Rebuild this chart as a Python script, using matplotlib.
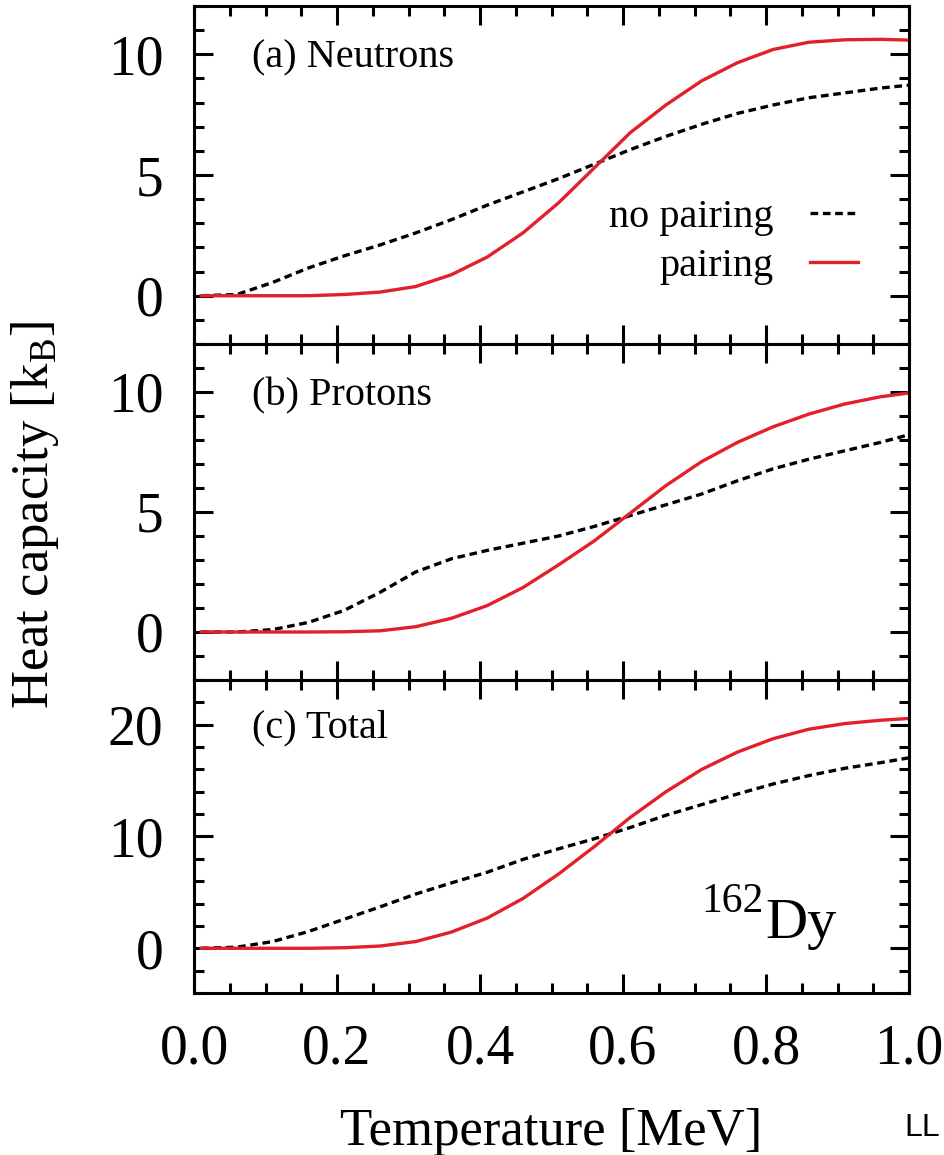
"""
Heat capacity of 162Dy vs temperature: neutrons, protons and total,
with and without pairing.
"""
import matplotlib
matplotlib.use("Agg")
import matplotlib.pyplot as plt
from matplotlib.ticker import MultipleLocator

plt.rcParams["font.family"] = ["Liberation Serif", "DejaVu Serif"]
plt.rcParams["mathtext.fontset"] = "custom"
plt.rcParams["mathtext.rm"] = "Liberation Serif"

# temperature grid [MeV]
temp = [0.01, 0.06, 0.11, 0.16, 0.21, 0.26, 0.31, 0.36, 0.41, 0.46, 0.51,
        0.56, 0.61, 0.66, 0.71, 0.76, 0.81, 0.86, 0.91, 0.96, 1.01]

# neutrons
cn_nopair = [0.0, 0.05, 0.55, 1.15, 1.65, 2.1, 2.6, 3.15, 3.75, 4.3, 4.85,
             5.45, 6.05, 6.6, 7.1, 7.55, 7.9, 8.2, 8.4, 8.6, 8.75]
cn_pair = [0.0, 0.0, 0.0, 0.0, 0.05, 0.15, 0.38, 0.87, 1.6, 2.6, 3.85,
           5.3, 6.75, 7.9, 8.9, 9.65, 10.2, 10.5, 10.6, 10.62, 10.58]

# protons
cp_nopair = [0.0, 0.0, 0.1, 0.4, 0.9, 1.65, 2.5, 3.05, 3.4, 3.7, 4.0,
             4.4, 4.85, 5.3, 5.75, 6.3, 6.8, 7.2, 7.55, 7.9, 8.3]
cp_pair = [0.0, 0.0, 0.0, 0.0, 0.01, 0.05, 0.22, 0.57, 1.1, 1.85, 2.8,
           3.8, 4.95, 6.1, 7.1, 7.9, 8.55, 9.08, 9.5, 9.8, 10.0]

# total
ct_nopair = [0.0, 0.1, 0.6, 1.5, 2.6, 3.7, 4.85, 5.85, 6.8, 7.95, 8.9,
             9.8, 10.8, 11.9, 12.85, 13.8, 14.7, 15.45, 16.1, 16.6, 17.15]
ct_pair = [0.0, 0.0, 0.0, 0.0, 0.05, 0.2, 0.6, 1.45, 2.7, 4.45, 6.65,
           9.1, 11.7, 14.0, 16.0, 17.55, 18.75, 19.6, 20.1, 20.4, 20.6]

panels = [
    ("(a) Neutrons", cn_nopair, cn_pair, (-2, 12), 5, 1),
    ("(b) Protons", cp_nopair, cp_pair, (-2, 12), 5, 1),
    ("(c) Total", ct_nopair, ct_pair, (-4, 24), 10, 2),
]

W, H = 944, 1155
fig = plt.figure(figsize=(W / 100, H / 100), dpi=100)

left, right = 194, 909
rows = [(6, 344), (344, 680), (680, 993)]

RED = "#e3202a"
LW = 2.4
axes = []
for (top, bot), (name, nopair, pair, ylim, major, minor) in zip(rows, panels):
    ax = fig.add_axes([left / W, (H - bot) / H, (right - left) / W, (bot - top) / H])
    ax.plot(temp, nopair, color="black", lw=LW, ls=(0, (2.3, 1.4)), label="no pairing")
    ax.plot(temp, pair, color=RED, lw=LW, label="pairing")
    ax.set_xlim(0, 1.0)
    ax.set_ylim(*ylim)
    ax.xaxis.set_major_locator(MultipleLocator(0.2))
    ax.xaxis.set_minor_locator(MultipleLocator(0.05))
    ax.yaxis.set_major_locator(MultipleLocator(major))
    ax.yaxis.set_minor_locator(MultipleLocator(minor))
    ax.tick_params(which="both", direction="in", top=True, right=True, width=2.2,
                   labelsize=40, pad=22)
    ax.tick_params(which="major", length=14)
    ax.tick_params(which="minor", length=7)
    for sp in ax.spines.values():
        sp.set_linewidth(2.2)
    ax.text(0.081, 0.817, name, transform=ax.transAxes, fontsize=29, va="baseline")
    axes.append(ax)

for ax in axes[:-1]:
    ax.tick_params(labelbottom=False)
axes[-1].xaxis.set_major_formatter(plt.FormatStrFormatter("%.1f"))

leg = axes[0].legend(loc="center right", bbox_to_anchor=(0.929, 0.302), frameon=False,
                     markerfirst=False, fontsize=29, handlelength=1.2,
                     handletextpad=0.9, labelspacing=0.3, borderpad=0, borderaxespad=0)

axes[2].text(0.797, 0.259, "162", transform=axes[2].transAxes, fontsize=30,
             ha="right", va="baseline")
axes[2].text(0.799, 0.176, "Dy", transform=axes[2].transAxes, fontsize=42,
             ha="left", va="baseline")

fig.text((left + right) / 2 / W, 1 - 1132 / H, "Temperature [MeV]", fontsize=38,
         ha="center", va="center")
fig.text(35 / W, 1 - 515 / H, r"Heat capacity [k$_\mathrm{B}$]", fontsize=38,
         rotation=90, ha="center", va="center")
fig.text(940 / W, 1 - 1136 / H, "LL", fontsize=23, family="Liberation Sans",
         ha="right", va="baseline")

fig.savefig("out.png", dpi=100)
